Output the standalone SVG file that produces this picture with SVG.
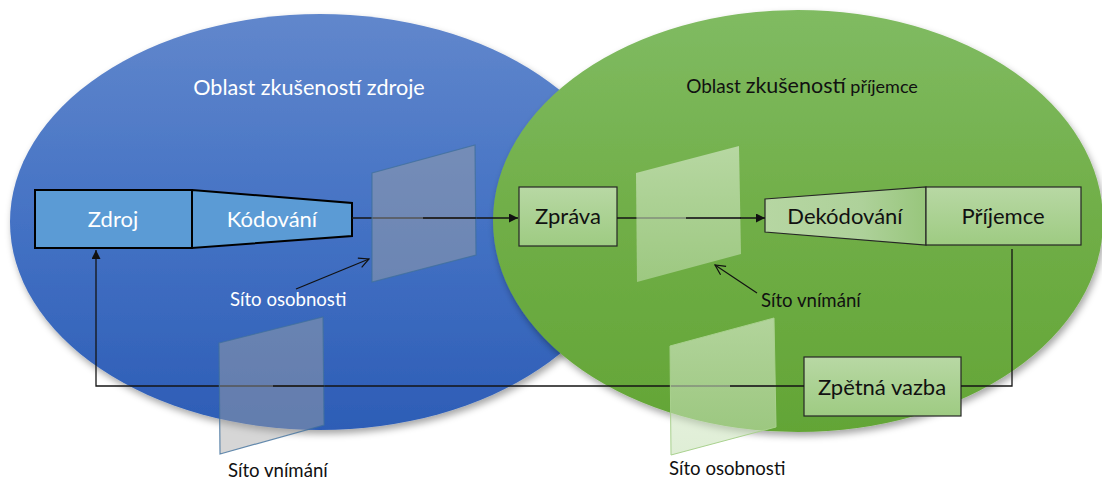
<svg xmlns="http://www.w3.org/2000/svg" width="1102" height="481" viewBox="0 0 1102 481">
<defs>
<linearGradient id="gBlue" x1="0" y1="0" x2="0" y2="1">
<stop offset="0" stop-color="#6187cc"/>
<stop offset="0.5" stop-color="#4472c4"/>
<stop offset="1" stop-color="#2d5db6"/>
</linearGradient>
<linearGradient id="gGreen" x1="0" y1="0" x2="0" y2="1">
<stop offset="0" stop-color="#80bb62"/>
<stop offset="0.5" stop-color="#70ae47"/>
<stop offset="1" stop-color="#63a536"/>
</linearGradient>
<linearGradient id="gBox" x1="0" y1="0" x2="0" y2="1">
<stop offset="0" stop-color="#b8d8a4"/>
<stop offset="1" stop-color="#9ecb82"/>
</linearGradient>
<linearGradient id="gDec" x1="0" y1="0" x2="1" y2="0">
<stop offset="0" stop-color="#b6d6a2"/>
<stop offset="0.6" stop-color="#aed19a"/>
<stop offset="1" stop-color="#98c67c"/>
</linearGradient>
<linearGradient id="gSieveG" x1="0" y1="0" x2="0" y2="1">
<stop offset="0" stop-color="#e2f0d9" stop-opacity="0.6"/>
<stop offset="1" stop-color="#c5e0b4" stop-opacity="0.55"/>
</linearGradient>
<filter id="shadow" x="-10%" y="-10%" width="120%" height="125%">
<feDropShadow dx="2" dy="4" stdDeviation="3.5" flood-color="#000" flood-opacity="0.35"/>
</filter>
<marker id="arr" viewBox="0 0 10 10" refX="10" refY="5" markerWidth="9" markerHeight="9" markerUnits="userSpaceOnUse" orient="auto">
<path d="M0,0 L10,5 L0,10 z" fill="#111"/>
</marker>
<marker id="open" viewBox="0 0 12 12" refX="11" refY="6" markerWidth="12" markerHeight="12" markerUnits="userSpaceOnUse" orient="auto">
<path d="M1,1 L11,6 L1,11" fill="none" stroke="#111" stroke-width="1.2"/>
</marker>
</defs>
<style>
text{font-family:Lato,"Liberation Sans",sans-serif}
.w{fill:#ffffff}
.d{fill:#111111}
.box{font-size:22px;text-anchor:middle}
.lbl{font-size:18.6px}
.blueBox{fill:#5b9bd5;stroke:#000;stroke-width:2}
.greenBox{stroke:#262626;stroke-width:1.2}
.line{fill:none;stroke:#151515;stroke-width:1.3}
.thin{fill:none;stroke:#111;stroke-width:1.2}
.sieveB{fill:#a5a5a5;fill-opacity:0.45;stroke:#41719c;stroke-width:1.2;stroke-opacity:0.8}
.sieveG{fill:url(#gSieveG);stroke:#a9d18e;stroke-width:1}
</style>

<g id="area-source" filter="url(#shadow)">
<ellipse cx="320" cy="222" rx="310" ry="208" fill="url(#gBlue)"/>
</g>
<g id="area-receiver" filter="url(#shadow)">
<ellipse cx="798" cy="221" rx="305" ry="211" fill="url(#gGreen)"/>
</g>
<g id="title-source"><text class="w" x="309" y="95" font-size="21.6" text-anchor="middle">Oblast zkušeností zdroje</text></g>
<g id="title-receiver"><text class="d" x="802" y="93" text-anchor="middle"><tspan font-size="19">Oblast </tspan><tspan font-size="21.5">zkušeností</tspan><tspan font-size="18"> příjemce</tspan></text></g>

<g id="zdroj">
<rect class="blueBox" x="35" y="190" width="157" height="58"/>
<text class="w box" x="113" y="227">Zdroj</text>
</g>
<g id="kodovani">
<path class="blueBox" d="M192,190 L352,203 L352,236 L192,248 Z"/>
<text class="w box" x="272" y="227">Kódování</text>
</g>
<g id="zprava">
<rect class="greenBox" fill="url(#gBox)" x="519" y="187" width="98" height="59"/>
<text class="d box" x="568" y="224">Zpráva</text>
</g>
<g id="dekodovani">
<path class="greenBox" fill="url(#gDec)" d="M765,199 L926,187 L926,245 L765,232 Z"/>
<text class="d box" x="845" y="224">Dekódování</text>
</g>
<g id="prijemce">
<rect class="greenBox" fill="url(#gBox)" x="926" y="187" width="155" height="58"/>
<text class="d box" x="1003" y="224">Příjemce</text>
</g>
<g id="zpetna-vazba">
<rect class="greenBox" fill="url(#gBox)" x="804" y="357" width="157" height="59"/>
<text class="d box" x="882" y="395">Zpětná vazba</text>
</g>

<g id="connectors">
<path class="line" d="M352,218 H518" marker-end="url(#arr)"/>
<path class="line" d="M617,218 H765" marker-end="url(#arr)"/>
<path class="line" d="M1012,249 V386 H961"/>
<path class="line" d="M804,386 H96 V250" marker-end="url(#arr)"/>
<path class="thin" d="M296,289 L369,259" marker-end="url(#open)"/>
<path class="thin" d="M757,293 L715,265" marker-end="url(#open)"/>
</g>

<g id="sito-osobnosti-zdroj">
<path class="sieveB" d="M372,173 L475,145 L476,255 L372,282 Z"/>
</g>
<g id="sito-vnimani-prijemce">
<path fill="url(#gSieveG)" d="M636,173 L739,146 L741,254 L637,282 Z"/>
</g>
<g id="sito-vnimani-zdroj">
<path class="sieveB" d="M219,343 L323,317 L324,425 L220,454 Z"/>
</g>
<g id="sito-osobnosti-prijemce">
<path class="sieveG" d="M670,346 L774,318 L776,427 L671,455 Z"/>
</g>

<g id="connectors-front">
<path class="line" d="M423,218 H476"/>
<path class="line" d="M686,218 H741"/>
<path class="line" d="M273,386 H324"/>
<path class="line" d="M730,386 H776"/>
</g>

<g id="labels">
<text class="w lbl" x="230" y="306">Síto osobnosti</text>
<text class="d lbl" x="761" y="307">Síto vnímání</text>
<text class="d lbl" x="228" y="477">Síto vnímání</text>
<text class="d lbl" x="669" y="475">Síto osobnosti</text>
</g>
</svg>
